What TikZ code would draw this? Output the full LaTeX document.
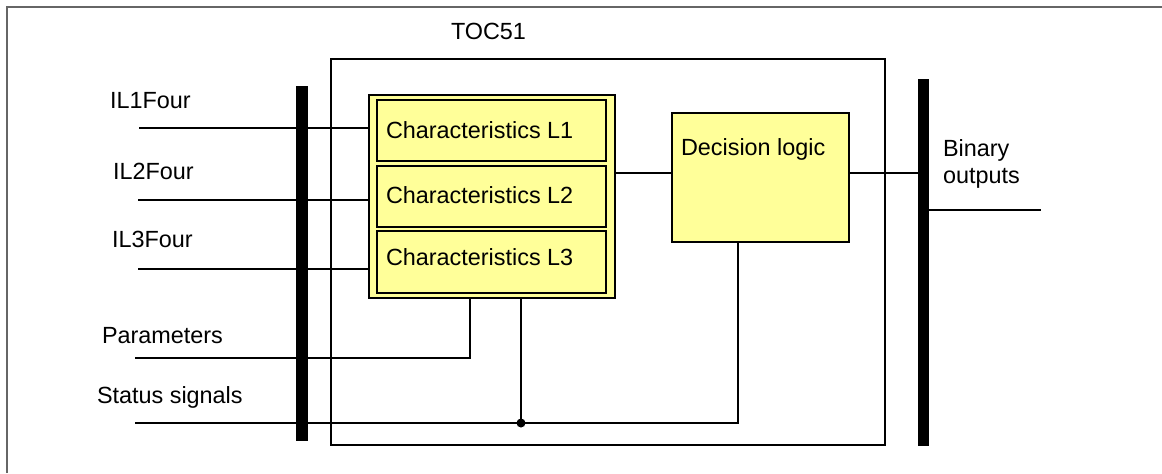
\documentclass[tikz,border=0pt]{standalone}
\usepackage{fontspec}
\setmainfont{Liberation Sans}
\begin{document}
\begin{tikzpicture}[x=0.5pt,y=-0.5pt,
  txt/.style={inner sep=0pt, outer sep=0pt, anchor=base west, font=\fontsize{11.7}{13.5}\selectfont},
  wire/.style={line width=0.75pt},
  bus/.style={fill=black, draw=none, inner sep=0pt, outer sep=0pt},
  box/.style={draw, inner sep=0pt, outer sep=0pt, anchor=north west},
  chbox/.style={box, fill=yellowbox, line width=1.25pt, minimum width=114.5pt},
  dot/.style={circle, fill=black, inner sep=0pt, minimum size=4.5pt}]
\definecolor{yellowbox}{HTML}{FFFF99}
\useasboundingbox (0,0) rectangle (1162,473);
% outer frame (only top and left edges visible)
\draw[gray!80!black, line width=0.6pt] (7,473) -- (7,7) -- (1162,7);
% TOC51 block
\node[box, line width=0.75pt, minimum width=277pt, minimum height=193pt] (toc) at (331,59) {};
\node[txt] (toclbl) at (451,39) {TOC51};
% buses
\node[bus, minimum width=6pt, minimum height=177.5pt] (lbus) at (302,263.5) {};
\node[bus, minimum width=5.5pt, minimum height=183.5pt] (rbus) at (923.5,262.5) {};
% characteristics group
\node[box, fill=yellowbox, line width=1.2pt, minimum width=123pt, minimum height=101.5pt] (cbox) at (369,95) {};
\node[chbox, minimum height=30.5pt] (c1) at (377,100) {};
\node[chbox, minimum height=30.5pt] (c2) at (377,166) {};
\node[chbox, minimum height=31pt] (c3) at (377,231) {};
\node[txt] (t1) at (386,138) {Characteristics L1};
\node[txt] (t2) at (386,203) {Characteristics L2};
\node[txt] (t3) at (386,265) {Characteristics L3};
% decision logic
\node[box, fill=yellowbox, line width=1pt, minimum width=88.5pt, minimum height=64.5pt] (dec) at (672,113) {};
\node[txt] (dlbl) at (681,155) {Decision logic};
% labels
\node[txt] (l1) at (110,108) {IL1Four};
\node[txt] (l2) at (113,179) {IL2Four};
\node[txt] (l3) at (112,247) {IL3Four};
\node[txt] (lp) at (102,343) {Parameters};
\node[txt] (ls) at (97,403) {Status signals};
\node[txt, align=left, anchor=north west] (lb) at (943,139.5) {Binary\\outputs};
% free ends and tap points
\coordinate (in1) at (139,128);
\coordinate (in2) at (138,200);
\coordinate (in3) at (138,269);
\coordinate (par) at (135,358);
\coordinate (st) at (135,423);
\coordinate (ptap) at (470,298);
\coordinate (stap) at (521,298);
\coordinate (dtap) at (738,242);
\coordinate (lv) at (640,173);
\coordinate (out) at (1041,210);
% connectors
\draw[wire] (in1) -- (in1 -| cbox.west);
\draw[wire] (in2) -- (in2 -| cbox.west);
\draw[wire] (in3) -- (in3 -| cbox.west);
\draw[wire] (par) -| (ptap);
\draw[wire] (st) -| (dtap);
\draw[wire] (stap) -- (stap |- st);
\draw[wire] (cbox.east |- lv) -- (dec.west |- lv);
\draw[wire] (dec.east |- lv) -- (rbus.west |- lv);
\draw[wire] (rbus.east |- out) -- (out);
\node[dot] (junc) at (stap |- st) {};
% redraw buses over wires
\fill[black] (lbus.north west) rectangle (lbus.south east);
\fill[black] (rbus.north west) rectangle (rbus.south east);
\end{tikzpicture}
\end{document}
